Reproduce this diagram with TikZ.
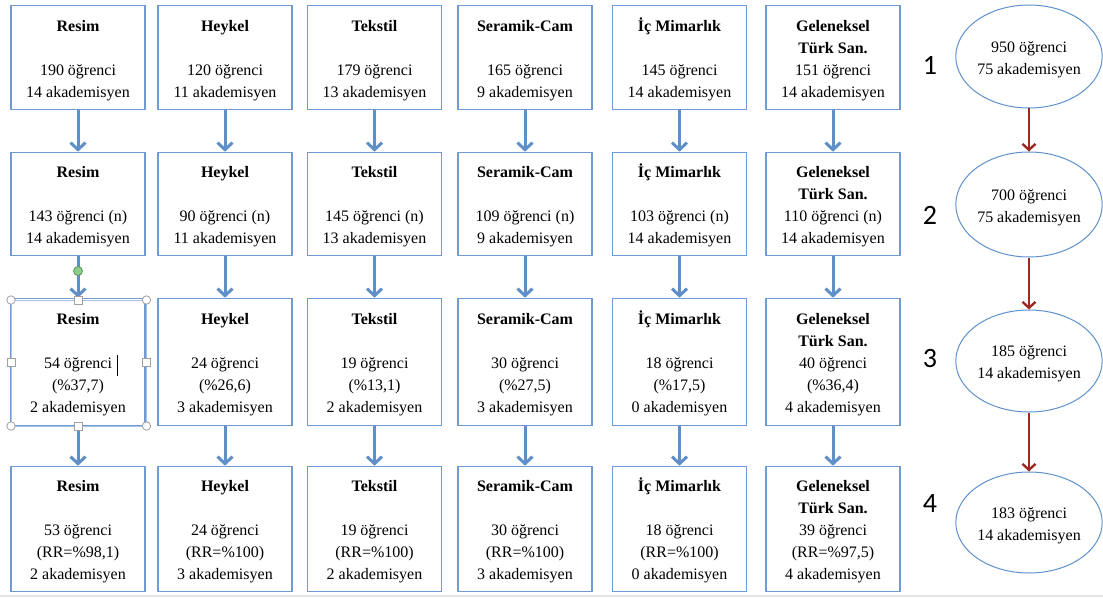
\documentclass[tikz,border=0pt]{standalone}
\usepackage{fontspec}
\setmainfont{Liberation Serif}
\newfontfamily\numfont{Carlito}
\usetikzlibrary{arrows.meta,shapes.geometric}
\definecolor{boxblue}{RGB}{110,156,210}
\definecolor{arrblue}{RGB}{95,143,201}
\definecolor{ellblue}{RGB}{95,145,205}
\definecolor{darkred}{RGB}{160,40,35}
\definecolor{hgray}{RGB}{160,160,160}
\definecolor{hgreen}{RGB}{140,205,140}
\definecolor{hgreendk}{RGB}{90,150,90}
\newcommand\topstrut{\rule{0pt}{20.5pt}}
\newcommand\boxtitle[1]{\topstrut\textbf{#1}}
\begin{document}
\begin{tikzpicture}[x=1pt,y=-1pt,
 box/.style={draw=boxblue, line width=1.6pt, minimum width=134pt, inner sep=0pt, align=center, font=\fontsize{16}{22}\selectfont, execute at end node=\strut},
 rowa/.style={box, minimum height=104pt},
 rowb/.style={box, minimum height=103pt},
 rowc/.style={box, minimum height=127pt},
 rowd/.style={box, minimum height=125pt},
 barrow/.style={draw=arrblue, line width=3pt, -{Straight Barb[length=7pt,width=15pt]}},
 rarrow/.style={draw=darkred, line width=2.4pt, -{Straight Barb[length=6pt,width=13pt]}},
 oval/.style={ellipse, draw=ellblue, line width=1pt, minimum width=138pt, minimum height=103pt, inner sep=0pt, align=center, font=\fontsize{16}{22}\selectfont, execute at end node=\strut},
 num/.style={font=\numfont\fontsize{28}{30}\selectfont},
 handle/.style={draw=hgray, fill=white, line width=0.8pt}
]
\useasboundingbox (0,0) rectangle (1103,599);
\fill[white] (0,0) rectangle (1103,599);
\draw[gray!20, line width=2pt] (0,596) -- (1103,596);

% Row 1
\node[rowa] (a1) at (78,57.5) {\boxtitle{Resim}\\ \mbox{}\\190 öğrenci\\14 akademisyen};
\node[rowa] (a2) at (225,57.5) {\boxtitle{Heykel}\\ \mbox{}\\120 öğrenci\\11 akademisyen};
\node[rowa] (a3) at (374.5,57.5) {\boxtitle{Tekstil}\\ \mbox{}\\179 öğrenci\\13 akademisyen};
\node[rowa] (a4) at (525,57.5) {\boxtitle{Seramik-Cam}\\ \mbox{}\\165 öğrenci\\9 akademisyen};
\node[rowa] (a5) at (679.5,57.5) {\boxtitle{İç Mimarlık}\\ \mbox{}\\145 öğrenci\\14 akademisyen};
\node[rowa] (a6) at (833,57.5) {\boxtitle{Geleneksel}\\\textbf{Türk San.}\\151 öğrenci\\14 akademisyen};

% Row 2
\node[rowb] (b1) at (78,204) {\boxtitle{Resim}\\ \mbox{}\\143 öğrenci (n)\\14 akademisyen};
\node[rowb] (b2) at (225,204) {\boxtitle{Heykel}\\ \mbox{}\\90 öğrenci (n)\\11 akademisyen};
\node[rowb] (b3) at (374.5,204) {\boxtitle{Tekstil}\\ \mbox{}\\145 öğrenci (n)\\13 akademisyen};
\node[rowb] (b4) at (525,204) {\boxtitle{Seramik-Cam}\\ \mbox{}\\109 öğrenci (n)\\9 akademisyen};
\node[rowb] (b5) at (679.5,204) {\boxtitle{İç Mimarlık}\\ \mbox{}\\103 öğrenci (n)\\14 akademisyen};
\node[rowb] (b6) at (833,204) {\boxtitle{Geleneksel}\\\textbf{Türk San.}\\110 öğrenci (n)\\14 akademisyen};

% Row 3
\node[rowc] (c1) at (78,362) {\boxtitle{Resim}\\ \mbox{}\\54 öğrenci\\(\%37,7)\\2 akademisyen};
\node[rowc] (c2) at (225,362) {\boxtitle{Heykel}\\ \mbox{}\\24 öğrenci\\(\%26,6)\\3 akademisyen};
\node[rowc] (c3) at (374.5,362) {\boxtitle{Tekstil}\\ \mbox{}\\19 öğrenci\\(\%13,1)\\2 akademisyen};
\node[rowc] (c4) at (525,362) {\boxtitle{Seramik-Cam}\\ \mbox{}\\30 öğrenci\\(\%27,5)\\3 akademisyen};
\node[rowc] (c5) at (679.5,362) {\boxtitle{İç Mimarlık}\\ \mbox{}\\18 öğrenci\\(\%17,5)\\0 akademisyen};
\node[rowc] (c6) at (833,362) {\boxtitle{Geleneksel}\\\textbf{Türk San.}\\40 öğrenci\\(\%36,4)\\4 akademisyen};

% Row 4
\node[rowd] (d1) at (78,529) {\boxtitle{Resim}\\ \mbox{}\\53 öğrenci\\(RR=\%98,1)\\2 akademisyen};
\node[rowd] (d2) at (225,529) {\boxtitle{Heykel}\\ \mbox{}\\24 öğrenci\\(RR=\%100)\\3 akademisyen};
\node[rowd] (d3) at (374.5,529) {\boxtitle{Tekstil}\\ \mbox{}\\19 öğrenci\\(RR=\%100)\\2 akademisyen};
\node[rowd] (d4) at (525,529) {\boxtitle{Seramik-Cam}\\ \mbox{}\\30 öğrenci\\(RR=\%100)\\3 akademisyen};
\node[rowd] (d5) at (679.5,529) {\boxtitle{İç Mimarlık}\\ \mbox{}\\18 öğrenci\\(RR=\%100)\\0 akademisyen};
\node[rowd] (d6) at (833,529) {\boxtitle{Geleneksel}\\\textbf{Türk San.}\\39 öğrenci\\(RR=\%97,5)\\4 akademisyen};

% Blue arrows
\foreach \i in {1,...,6}{
  \draw[barrow] (a\i.south) -- (b\i.north);
  \draw[barrow] (b\i.south) -- (c\i.north);
  \draw[barrow] (c\i.south) -- (d\i.north);
}

% Step numbers
\node[num] (n1) at (930,65) {1};
\node[num] (n2) at (930,215) {2};
\node[num] (n3) at (930,359) {3};
\node[num] (n4) at (930,504) {4};

% Ellipses
\node[oval, minimum width=137pt] (e1) at (1029,56.5) {\topstrut 950 öğrenci\\75 akademisyen};
\node[oval, minimum width=140pt, minimum height=105pt] (e2) at (1029,204.5) {\topstrut 700 öğrenci\\75 akademisyen};
\node[oval, minimum width=140pt, minimum height=102pt] (e3) at (1029,361) {\topstrut 185 öğrenci\\14 akademisyen};
\node[oval, minimum width=138pt, minimum height=101pt] (e4) at (1029,522.5) {\topstrut 183 öğrenci\\14 akademisyen};

\draw[rarrow] (e1.south) -- (e2.north);
\draw[rarrow] (e2.south) -- (e3.north);
\draw[rarrow] (e3.south) -- (e4.north);

% Selection frame and handles on the third Resim box
\draw[boxblue!60, line width=0.8pt] (11,300) rectangle (146.5,426);
\draw[black, line width=0.6pt] (117.5,355) -- (117.5,376);
\foreach \p in {(11,300),(146.5,300),(11,426),(146.5,426)}
  \draw[handle] \p circle (4.2pt);
\foreach \p in {(78,300),(78,426),(11,362),(146.5,362)}
  \draw[handle, shift={\p}] (-4,-4) rectangle (4,4);
\draw[draw=hgreendk, fill=hgreen, line width=0.8pt] (78,271) circle (4.5pt);
\end{tikzpicture}
\end{document}
